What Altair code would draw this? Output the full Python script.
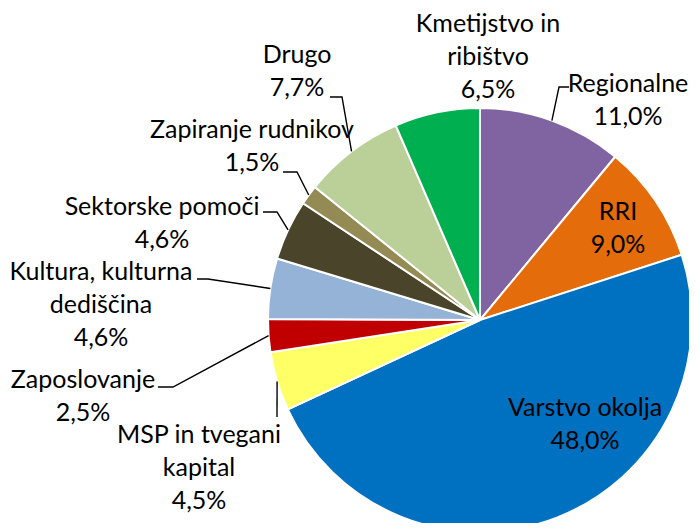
import math
import altair as alt
import pandas as pd

# ---- data ----
categories = ["Regionalne", "RRI", "Varstvo okolja", "MSP in tvegani kapital",
              "Zaposlovanje", "Kultura, kulturna dediščina", "Sektorske pomoči",
              "Zapiranje rudnikov", "Drugo", "Kmetijstvo in ribištvo"]
values = [11.0, 9.0, 48.0, 4.5, 2.5, 4.6, 4.6, 1.5, 7.7, 6.5]

# ---- style ----
colors = ["#8064A2", "#E46C0A", "#0070C0", "#FFFF66", "#C00000",
          "#95B3D7", "#4A452A", "#948A54", "#BBCF98", "#00B050"]
wrapped = ["Regionalne", "RRI", "Varstvo okolja", "MSP in tvegani\nkapital",
           "Zaposlovanje", "Kultura, kulturna\ndediščina", "Sektorske pomoči",
           "Zapiranje rudnikov", "Drugo", "Kmetijstvo in\nribištvo"]

# ---- layout (page pixels) ----
ORIGIN = 8
W, H = 681, 515
CX, CY, R = 480, 320, 212
# centre of the first text line of each label
label_pos = [(628, 84), (618, 212), (585, 408), (199, 435), (83, 380),
             (101, 272), (162, 207), (252, 130), (297, 55), (488, 24)]
# leader: list of extra points after the slice-edge point (None = no leader)
leaders = [[(559, 87), (569, 87)], None, None, [(277, 417)],
           [(173, 387), (158, 387)], [(208, 279), (197, 279)],
           [(277, 212), (263, 212)], [(297, 172), (283, 172)],
           [(342, 97), (330, 97)], None]

total = sum(values)
pie_df = pd.DataFrame({"cat": categories, "value": values, "idx": range(len(values))})

lab_rows = []
line_rows = []
cum = 0.0
for i, (c, v) in enumerate(zip(categories, values)):
    mid = (cum + v / 2) / total * 2 * math.pi
    cum += v
    pct = f"{v:.1f}".replace(".", ",") + "%"
    lx, ly = label_pos[i]
    lab_rows.append({"cat": c, "txt": wrapped[i] + "\n" + pct,
                     "px": lx - ORIGIN, "py": ly - ORIGIN})
    if leaders[i]:
        ex = CX + R * math.sin(mid)
        ey = CY - R * math.cos(mid)
        pts = [(ex, ey)] + leaders[i]
        for k, (x, y) in enumerate(pts):
            line_rows.append({"cat": c, "o": k, "px": x - ORIGIN, "py": y - ORIGIN})

lab_df = pd.DataFrame(lab_rows)
line_df = pd.DataFrame(line_rows)

pie = alt.Chart(pie_df).mark_arc(
    outerRadius=R, stroke="white", strokeWidth=2
).encode(
    x=alt.value(CX - ORIGIN), y=alt.value(CY - ORIGIN),
    theta=alt.Theta("value:Q", stack=True),
    color=alt.Color("cat:N", scale=alt.Scale(domain=categories, range=colors), legend=None),
    order=alt.Order("idx:Q"),
)

lines = alt.Chart(line_df).mark_line(color="black", strokeWidth=1.4).encode(
    x=alt.X("px:Q", scale=None, axis=None),
    y=alt.Y("py:Q", scale=None, axis=None),
    detail="cat:N",
    order="o:Q",
)

texts = alt.Chart(lab_df).mark_text(
    font="Lato", fontSize=25, lineBreak="\n", lineHeight=33,
    align="center", baseline="middle", color="black"
).encode(
    x=alt.X("px:Q", scale=None, axis=None),
    y=alt.Y("py:Q", scale=None, axis=None),
    text="txt:N",
)

chart = alt.layer(pie, lines, texts).properties(
    width=W, height=H, padding=0,
    autosize=alt.AutoSizeParams(type="none"),
).configure_view(stroke=None)

chart.save("out.html", embed_options={"renderer": "svg", "actions": False})
